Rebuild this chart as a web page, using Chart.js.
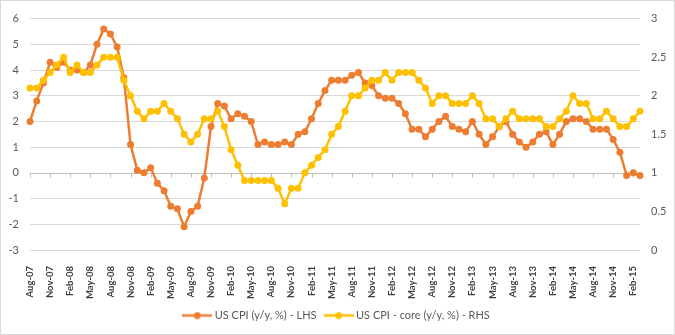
<!DOCTYPE html>
<html>
<head>
<meta charset="utf-8">
<script src="https://cdn.jsdelivr.net/npm/chart.js@4"></script>
<style>
  html, body { margin: 0; padding: 0; background: #fff; }
  #frame { width: 675px; height: 335px; box-sizing: border-box; border: 1px solid #d9d9d9; }
  canvas { display: block; }
</style>
</head>
<body>
<div id="frame"><canvas id="cpi-chart" width="673" height="333"></canvas></div>
<script>
// monthly, Aug-07 .. Mar-15
const categories = [
    'Aug-07', 'Sep-07', 'Oct-07', 'Nov-07', 'Dec-07',
    'Jan-08', 'Feb-08', 'Mar-08', 'Apr-08', 'May-08', 'Jun-08', 'Jul-08', 'Aug-08', 'Sep-08', 'Oct-08', 'Nov-08', 'Dec-08',
    'Jan-09', 'Feb-09', 'Mar-09', 'Apr-09', 'May-09', 'Jun-09', 'Jul-09', 'Aug-09', 'Sep-09', 'Oct-09', 'Nov-09', 'Dec-09',
    'Jan-10', 'Feb-10', 'Mar-10', 'Apr-10', 'May-10', 'Jun-10', 'Jul-10', 'Aug-10', 'Sep-10', 'Oct-10', 'Nov-10', 'Dec-10',
    'Jan-11', 'Feb-11', 'Mar-11', 'Apr-11', 'May-11', 'Jun-11', 'Jul-11', 'Aug-11', 'Sep-11', 'Oct-11', 'Nov-11', 'Dec-11',
    'Jan-12', 'Feb-12', 'Mar-12', 'Apr-12', 'May-12', 'Jun-12', 'Jul-12', 'Aug-12', 'Sep-12', 'Oct-12', 'Nov-12', 'Dec-12',
    'Jan-13', 'Feb-13', 'Mar-13', 'Apr-13', 'May-13', 'Jun-13', 'Jul-13', 'Aug-13', 'Sep-13', 'Oct-13', 'Nov-13', 'Dec-13',
    'Jan-14', 'Feb-14', 'Mar-14', 'Apr-14', 'May-14', 'Jun-14', 'Jul-14', 'Aug-14', 'Sep-14', 'Oct-14', 'Nov-14', 'Dec-14',
    'Jan-15', 'Feb-15', 'Mar-15'
];

// US CPI y/y % (left axis)
const cpiHeadline = [
    2.0, 2.8, 3.5, 4.3, 4.1,
    4.3, 4.0, 4.0, 3.9, 4.2, 5.0, 5.6, 5.4, 4.9, 3.7, 1.1, 0.1,
    0.0, 0.2, -0.4, -0.7, -1.3, -1.4, -2.1, -1.5, -1.3, -0.2, 1.8, 2.7,
    2.6, 2.1, 2.3, 2.2, 2.0, 1.1, 1.2, 1.1, 1.1, 1.2, 1.1, 1.5,
    1.6, 2.1, 2.7, 3.2, 3.6, 3.6, 3.6, 3.8, 3.9, 3.5, 3.4, 3.0,
    2.9, 2.9, 2.7, 2.3, 1.7, 1.7, 1.4, 1.7, 2.0, 2.2, 1.8, 1.7,
    1.6, 2.0, 1.5, 1.1, 1.4, 1.8, 2.0, 1.5, 1.2, 1.0, 1.2, 1.5,
    1.6, 1.1, 1.5, 2.0, 2.1, 2.1, 2.0, 1.7, 1.7, 1.7, 1.3, 0.8,
    -0.1, 0.0, -0.1
];

// US core CPI y/y % (right axis)
const cpiCore = [
    2.1, 2.1, 2.2, 2.3, 2.4,
    2.5, 2.3, 2.4, 2.3, 2.3, 2.4, 2.5, 2.5, 2.5, 2.2, 2.0, 1.8,
    1.7, 1.8, 1.8, 1.9, 1.8, 1.7, 1.5, 1.4, 1.5, 1.7, 1.7, 1.8,
    1.6, 1.3, 1.1, 0.9, 0.9, 0.9, 0.9, 0.9, 0.8, 0.6, 0.8, 0.8,
    1.0, 1.1, 1.2, 1.3, 1.5, 1.6, 1.8, 2.0, 2.0, 2.1, 2.2, 2.2,
    2.3, 2.2, 2.3, 2.3, 2.3, 2.2, 2.1, 1.9, 2.0, 2.0, 1.9, 1.9,
    1.9, 2.0, 1.9, 1.7, 1.7, 1.6, 1.7, 1.8, 1.7, 1.7, 1.7, 1.7,
    1.6, 1.6, 1.7, 1.8, 2.0, 1.9, 1.9, 1.7, 1.7, 1.8, 1.7, 1.6,
    1.6, 1.7, 1.8
];

const lhsRange = [-3, 6];
const rhsRange = [0, 3];
const labelEvery = 3;

const ORANGE = '#ED7D31';
const YELLOW = '#FFC000';
const TEXT = '#595959';
const GRID = '#d9d9d9';
const FONT = 'Lato, "Open Sans", sans-serif';

// little line-with-dot symbol for the legend
function legendMark(color) {
    const c = document.createElement('canvas');
    c.width = 30;
    c.height = 8;
    const g = c.getContext('2d');
    g.strokeStyle = color;
    g.lineWidth = 2.5;
    g.beginPath();
    g.moveTo(0, 4);
    g.lineTo(30, 4);
    g.stroke();
    g.fillStyle = color;
    g.beginPath();
    g.arc(15, 4, 3.5, 0, Math.PI * 2);
    g.fill();
    return c;
}

// x axis sits on the zero of the left axis, with small ticks hanging below
const zeroAxis = {
    id: 'zeroAxis',
    beforeDatasetsDraw(chart) {
        const { ctx, chartArea, scales } = chart;
        const y0 = Math.round(scales.y.getPixelForValue(0)) + 0.5;
        ctx.save();
        ctx.strokeStyle = '#bfbfbf';
        ctx.lineWidth = 1;
        ctx.beginPath();
        ctx.moveTo(chartArea.left, y0);
        ctx.lineTo(chartArea.right, y0);
        for (let i = 0; i < categories.length; i += labelEvery) {
            const x = Math.round(scales.x.getPixelForValue(i)) + 0.5;
            ctx.moveTo(x, y0);
            ctx.lineTo(x, y0 + 4);
        }
        ctx.stroke();
        ctx.restore();
    }
};

const ctx = document.getElementById('cpi-chart').getContext('2d');
new Chart(ctx, {
    type: 'line',
    data: {
        labels: categories,
        datasets: [
            {
                label: 'US CPI (y/y, %) - LHS',
                data: cpiHeadline,
                yAxisID: 'y',
                borderColor: ORANGE,
                backgroundColor: ORANGE,
                pointBackgroundColor: ORANGE,
                borderWidth: 2.5,
                pointRadius: 3.5,
                pointBorderWidth: 0,
                tension: 0,
                order: 2
            },
            {
                label: 'US CPI - core (y/y, %) - RHS',
                data: cpiCore,
                yAxisID: 'y1',
                borderColor: YELLOW,
                backgroundColor: YELLOW,
                pointBackgroundColor: YELLOW,
                borderWidth: 2.5,
                pointRadius: 3.5,
                pointBorderWidth: 0,
                tension: 0,
                order: 1
            }
        ]
    },
    options: {
        responsive: false,
        animation: false,
        layout: { padding: { top: 3, bottom: 3, left: 0, right: 0 } },
        plugins: {
            legend: {
                display: true,
                position: 'bottom',
                labels: {
                    color: TEXT,
                    font: { family: FONT, size: 11 },
                    usePointStyle: true,
                    pointStyleWidth: 24,
                    boxHeight: 8,
                    padding: 10,
                    sort: (a, b) => a.datasetIndex - b.datasetIndex,
                    generateLabels(chart) {
                        const items = Chart.defaults.plugins.legend.labels.generateLabels(chart);
                        items.forEach(item => {
                            item.pointStyle = legendMark(item.datasetIndex === 0 ? ORANGE : YELLOW);
                        });
                        return items;
                    }
                }
            },
            tooltip: { enabled: false }
        },
        scales: {
            x: {
                offset: false,
                grid: { display: false },
                border: { display: false },
                ticks: {
                    autoSkip: false,
                    minRotation: 90,
                    maxRotation: 90,
                    padding: 8,
                    color: '#404040',
                    font: { family: FONT, size: 9.5, weight: 'bold' },
                    callback: (value, index) => index % labelEvery === 0 ? categories[index] : ''
                },
                afterFit(scale) { scale.height = 50; }
            },
            y: {
                position: 'left',
                min: lhsRange[0],
                max: lhsRange[1],
                border: { display: false },
                grid: {
                    color: ctx => ctx.tick.value === 0 ? 'rgba(0,0,0,0)' : GRID,
                    drawTicks: false
                },
                ticks: {
                    stepSize: 1,
                    padding: 11,
                    color: TEXT,
                    font: { family: FONT, size: 11 }
                },
                afterFit(scale) { scale.width = 29; }
            },
            y1: {
                position: 'right',
                min: rhsRange[0],
                max: rhsRange[1],
                border: { display: false },
                grid: { display: false, drawTicks: false },
                ticks: {
                    stepSize: 0.5,
                    padding: 11,
                    color: TEXT,
                    font: { family: FONT, size: 11 },
                    callback: v => String(v)
                },
                afterFit(scale) { scale.width = 34; }
            }
        }
    },
    plugins: [zeroAxis]
});
</script>
</body>
</html>
